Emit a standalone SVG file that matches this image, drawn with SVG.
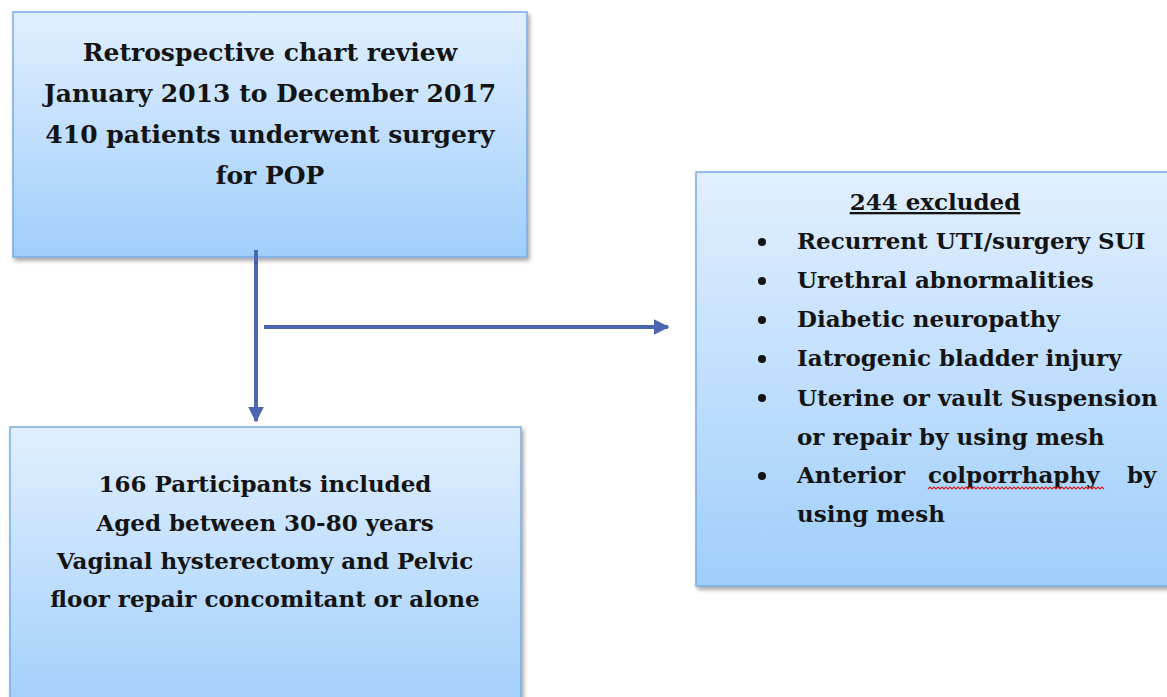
<svg xmlns="http://www.w3.org/2000/svg" width="1167" height="697" viewBox="0 0 1167 697">
<defs>
<linearGradient id="g" x1="0" y1="0" x2="0" y2="1">
<stop offset="0" stop-color="#e1effe"/>
<stop offset="1" stop-color="#9fcefb"/>
</linearGradient>
<filter id="sh" x="-5%" y="-5%" width="115%" height="115%">
<feDropShadow dx="2" dy="3" stdDeviation="2" flood-color="#000" flood-opacity="0.35"/>
</filter>
<marker id="ah" viewBox="0 0 10 10" refX="9" refY="5" markerWidth="4" markerHeight="4.2" orient="auto" markerUnits="strokeWidth">
<path d="M0,0 L10,5 L0,10 Z" fill="#4a66b2"/>
</marker>
<style>
.box{fill:url(#g);stroke:#7aabe3;stroke-width:1.5;filter:url(#sh)}
.t{font-family:"DejaVu Serif","Liberation Serif",serif;font-weight:bold;font-size:23px;fill:#141414}
.big{font-size:25px}
.c{text-anchor:middle}
.conn{stroke:#4a66b2;stroke-width:4;fill:none}
</style>
</defs>
<g id="connectors">
<line class="conn" x1="256" y1="250" x2="256" y2="421" marker-end="url(#ah)"/>
<line class="conn" x1="264" y1="327" x2="668" y2="327" marker-end="url(#ah)"/>
</g>
<g id="node-review">
<rect class="box" x="13" y="12" width="514" height="245"/>
<text class="t big c" x="270" y="61">Retrospective chart review</text>
<text class="t big c" x="270" y="102">January 2013 to December 2017</text>
<text class="t big c" x="270" y="143">410 patients underwent surgery</text>
<text class="t big c" x="270" y="184">for POP</text>
</g>
<line class="conn" x1="256" y1="250" x2="256" y2="262"/>
<g id="node-included">
<rect class="box" x="10" y="427" width="511" height="290"/>
<text class="t c" x="265" y="492">166 Participants included</text>
<text class="t c" x="265" y="531">Aged between 30-80 years</text>
<text class="t c" x="265" y="569">Vaginal hysterectomy and Pelvic</text>
<text class="t c" x="265" y="607">floor repair concomitant or alone</text>
</g>
<g id="node-excluded">
<rect class="box" x="696" y="172" width="490" height="414"/>
<text class="t c" x="935" y="210" text-decoration="underline">244 excluded</text>
<g class="t">
<circle cx="762" cy="242" r="4" fill="#141414"/>
<text x="797" y="249">Recurrent UTI/surgery SUI</text>
<circle cx="762" cy="281" r="4" fill="#141414"/>
<text x="797" y="288">Urethral abnormalities</text>
<circle cx="762" cy="320" r="4" fill="#141414"/>
<text x="797" y="327">Diabetic neuropathy</text>
<circle cx="762" cy="359" r="4" fill="#141414"/>
<text x="797" y="366">Iatrogenic bladder injury</text>
<circle cx="762" cy="398" r="4" fill="#141414"/>
<text x="797" y="406">Uterine or vault Suspension</text>
<text x="797" y="445">or repair by using mesh</text>
<circle cx="762" cy="476" r="4" fill="#141414"/>
<text x="797" y="483">Anterior</text>
<text x="928" y="483">colporrhaphy</text>
<text x="1127" y="483">by</text>
<text x="797" y="522">using mesh</text>
</g>
<path d="M928,489 l2,-2 l2,2 l2,-2 l2,2 l2,-2 l2,2 l2,-2 l2,2 l2,-2 l2,2 l2,-2 l2,2 l2,-2 l2,2 l2,-2 l2,2 l2,-2 l2,2 l2,-2 l2,2 l2,-2 l2,2 l2,-2 l2,2 l2,-2 l2,2 l2,-2 l2,2 l2,-2 l2,2 l2,-2 l2,2 l2,-2 l2,2 l2,-2 l2,2 l2,-2 l2,2 l2,-2 l2,2 l2,-2 l2,2 l2,-2 l2,2 l2,-2 l2,2 l2,-2 l2,2 l2,-2 l2,2 l2,-2 l2,2 l2,-2 l2,2 l2,-2 l2,2 l2,-2 l2,2 l2,-2 l2,2 l2,-2 l2,2 l2,-2 l2,2 l2,-2 l2,2 l2,-2 l2,2 l2,-2 l2,2 l2,-2 l2,2 l2,-2 l2,2 l2,-2 l2,2 l2,-2 l2,2 l2,-2 l2,2 l2,-2 l2,2 l2,-2 l2,2 l2,-2 l2,2 l2,-2 l2,2" fill="none" stroke="#e02020" stroke-width="1.2"/>
</g>
</svg>
